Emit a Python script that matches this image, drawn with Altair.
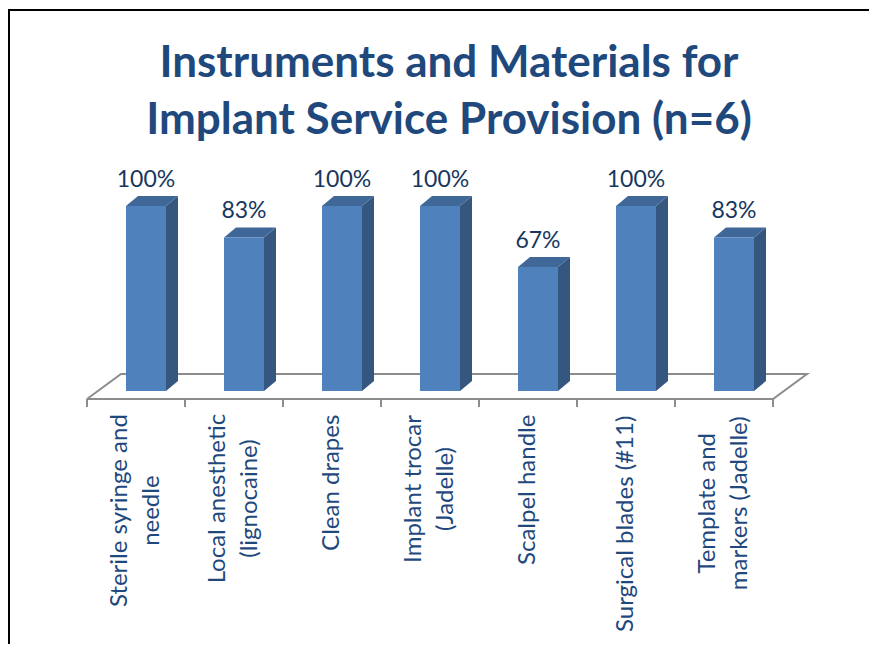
import altair as alt
import pandas as pd

# ---------------- data ----------------
categories = [
    "Sterile syringe and needle",
    "Local anesthetic (lignocaine)",
    "Clean drapes",
    "Implant trocar (Jadelle)",
    "Scalpel handle",
    "Surgical blades (#11)",
    "Template and markers (Jadelle)",
]
label_lines = [
    ["Sterile syringe and", "needle"],
    ["Local anesthetic", "(lignocaine)"],
    ["Clean drapes"],
    ["Implant trocar", "(Jadelle)"],
    ["Scalpel handle"],
    ["Surgical blades (#11)"],
    ["Template and", "markers (Jadelle)"],
]
values = [100, 83, 100, 100, 67, 100, 83]
title_lines = ["Instruments and Materials for", "Implant Service Provision (n=6)"]

# ---------------- geometry helpers (pixel -> data units) ----------------
W, H = 861, 636
X_RANGE = [79, 765]          # floor front edge
Y_RANGE = [383, 198]         # 0% .. 100%
n = len(categories)
XPX = (X_RANGE[1] - X_RANGE[0]) / n           # px per category
YPX = (Y_RANGE[0] - Y_RANGE[1]) / 100.0       # px per percent
xu = lambda px: px / XPX
yu = lambda px: px / YPX

L_OFF, R_OFF = xu(-10), xu(30)   # front face relative to category centre
DX, DY = xu(12), yu(10)          # bar depth
FLOOR_FRONT, FLOOR_BACK = yu(-8), yu(17)
FLOOR_DX = xu(34)

LAB_FS, LAB_LH = 24, 32
_cw = {' ': 0.193, 'a': 0.49, 'b': 0.55, 'c': 0.45, 'd': 0.55, 'e': 0.51, 'f': 0.31,
       'g': 0.49, 'h': 0.55, 'i': 0.23, 'j': 0.23, 'k': 0.49, 'l': 0.23, 'm': 0.82,
       'n': 0.55, 'o': 0.55, 'p': 0.54, 'q': 0.55, 'r': 0.36, 's': 0.42, 't': 0.34,
       'u': 0.55, 'v': 0.49, 'w': 0.74, 'x': 0.47, 'y': 0.49, 'z': 0.44, 'S': 0.53,
       'L': 0.46, 'C': 0.64, 'I': 0.27, 'T': 0.55, 'J': 0.38, '(': 0.30, ')': 0.30,
       '#': 0.58, '1': 0.58}


def text_w(s, fs):
    return sum(_cw.get(ch, 0.55) for ch in s) * fs * 1.03


xscale = alt.Scale(domain=[-0.5, n - 0.5], range=X_RANGE, nice=False, zero=False)
yscale = alt.Scale(domain=[0, 100], range=Y_RANGE, nice=False, zero=False)

front_rows, side_rows, top_rows, val_rows, lab_rows = [], [], [], [], []
for i, (c, v) in enumerate(zip(categories, values)):
    L, R = i + L_OFF, i + R_OFF
    front_rows.append(dict(cat=c, x=L, x2=R, y=0, y2=v))
    side_rows += [dict(cat=c, x=R, lo=0, hi=v), dict(cat=c, x=R + DX, lo=DY, hi=v + DY)]
    top_rows += [
        dict(cat=c, x=L, lo=v, hi=v),
        dict(cat=c, x=L + DX, lo=v, hi=v + DY),
        dict(cat=c, x=R, lo=v, hi=v + DY),
        dict(cat=c, x=R + DX, lo=v + DY, hi=v + DY),
    ]
    val_rows.append(dict(cat=c, x=(L + R) / 2, y=v + yu(19), t=f"{v}%"))
    lines = label_lines[i]
    maxw = max(text_w(s, LAB_FS) for s in lines)
    lab_rows.append(dict(
        cat=c,
        x=i - xu((len(lines) - 1) * LAB_LH / 2),
        y=FLOOR_FRONT - yu(16) - yu(maxw / 2),
        t=lines,
    ))

x0, x1 = -0.5, n - 0.5
floor = pd.DataFrame([
    dict(o=0, x=x0, y=FLOOR_FRONT),
    dict(o=1, x=x1, y=FLOOR_FRONT),
    dict(o=2, x=x1 + FLOOR_DX, y=FLOOR_BACK),
    dict(o=3, x=x0 + FLOOR_DX, y=FLOOR_BACK),
    dict(o=4, x=x0, y=FLOOR_FRONT),
])
ticks = pd.DataFrame([dict(x=k - 0.5, y=FLOOR_FRONT, y2=FLOOR_FRONT - yu(8)) for k in range(n + 1)])

X = lambda f="x": alt.X(f"{f}:Q", scale=xscale, axis=None)
Y = lambda f="y": alt.Y(f"{f}:Q", scale=yscale, axis=None)

floor_layer = alt.Chart(floor).mark_line(color="#8C8C8C", strokeWidth=2).encode(
    x=X(), y=Y(), order="o:Q")
tick_layer = alt.Chart(ticks).mark_rule(color="#8C8C8C", strokeWidth=2).encode(
    x=X(), y=Y(), y2="y2:Q")
front_layer = alt.Chart(pd.DataFrame(front_rows)).mark_rect(color="#4F81BD").encode(
    x=X(), x2="x2:Q", y=Y(), y2="y2:Q")
side_layer = alt.Chart(pd.DataFrame(side_rows)).mark_area(color="#35577F", opacity=1).encode(
    x=X(), y=Y("lo"), y2="hi:Q", detail="cat:N")
top_layer = alt.Chart(pd.DataFrame(top_rows)).mark_area(color="#3F6797", opacity=1).encode(
    x=X(), y=Y("lo"), y2="hi:Q", detail="cat:N")
val_layer = alt.Chart(pd.DataFrame(val_rows)).mark_text(
    font="Lato", fontSize=23, color="#17375E", baseline="alphabetic", align="center").encode(
    x=X(), y=Y(), text="t:N")
lab_layer = alt.Chart(pd.DataFrame(lab_rows)).mark_text(
    font="Lato", fontSize=LAB_FS, color="#1F497D", angle=270, align="center",
    baseline="middle", lineHeight=LAB_LH).encode(x=X(), y=Y(), text="t")

title_df = pd.DataFrame({"t": [title_lines]})
title_layer = alt.Chart(title_df).mark_text(
    font="Lato", fontWeight="bold", fontSize=44, color="#1F497D", align="center",
    baseline="top", lineHeight=57).encode(
    x=alt.value(441), y=alt.value(34), text="t")

frame_df = pd.DataFrame({"a": [0]})
frame_top = alt.Chart(frame_df).mark_rule(color="black", strokeWidth=2).encode(
    x=alt.value(0), x2=alt.value(W), y=alt.value(2))
frame_left = alt.Chart(frame_df).mark_rule(color="black", strokeWidth=2).encode(
    x=alt.value(1), y=alt.value(2), y2=alt.value(H))

chart = alt.layer(
    frame_top, frame_left, floor_layer, tick_layer,
    side_layer, top_layer, front_layer, val_layer, lab_layer, title_layer,
).properties(
    width=W, height=H, autosize=alt.AutoSizeParams(type="none"), padding=0,
    background="white",
).configure_view(stroke=None)

chart.save("out.html", embed_options={"renderer": "svg", "actions": False})
